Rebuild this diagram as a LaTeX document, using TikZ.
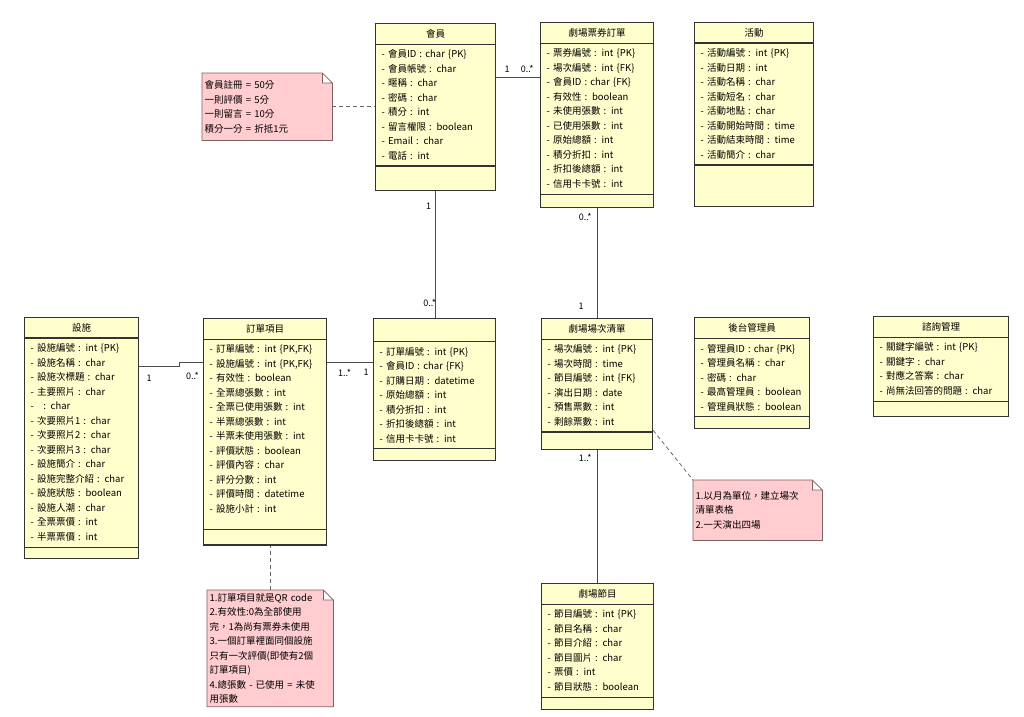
\documentclass[tikz,border=0pt]{standalone}
\usepackage{fontspec}
\setmainfont{Noto Sans CJK TC}
\usetikzlibrary{shapes.multipart,positioning,calc,backgrounds}
\definecolor{classfill}{RGB}{255,255,206}
\definecolor{notefill}{RGB}{255,204,207}
\definecolor{notedraw}{RGB}{130,95,95}

\begin{document}
\begin{tikzpicture}[
        x=1pt, y=-1pt,
        every node/.style={font=\fontsize{9.5}{14.5}\selectfont},
        umlclass/.style={
            rectangle split, rectangle split parts=3,
            draw=black!80, line width=1.1pt, fill=classfill,
            anchor=north west, align=left,
            inner xsep=6pt, inner ysep=5.3pt
        },
        notebox/.style={anchor=north west, align=left, inner xsep=2.5pt, inner ysep=3pt},
        mult/.style={font=\fontsize{9}{11}\selectfont, inner sep=1pt},
        assoc/.style={draw=black!70, line width=0.8pt},
        noteline/.style={draw=black!60, line width=0.8pt, dash pattern=on 4pt off 3pt}
    ]
    \useasboundingbox (0,0) rectangle (1024,716);

    % top row
    \node[umlclass, text width=108pt] (member) at (375,23) {\hfill 會員\hfill\null
        \nodepart{two}- 會員ID : char \{PK\}\\- 會員帳號 : char\\- 暱稱 : char\\- 密碼 : char\\- 積分 : int\\- 留言權限 : boolean\\- Email : char\\- 電話 : int
        \nodepart{three}\rule{0pt}{13pt}};
    \node[umlclass, text width=101pt] (ticket) at (540,22) {\hfill 劇場票券訂單\hfill\null
        \nodepart{two}- 票券編號 : int \{PK\}\\- 場次編號 : int \{FK\}\\- 會員ID : char \{FK\}\\- 有效性 : boolean\\- 未使用張數 : int\\- 已使用張數 : int\\- 原始總額 : int\\- 積分折扣 : int\\- 折扣後總額 : int\\- 信用卡卡號 : int
        \nodepart{three}\rule{0pt}{2pt}};
    \node[umlclass, text width=107pt] (activity) at (694,22) {\hfill 活動\hfill\null
        \nodepart{two}- 活動編號 : int \{PK\}\\- 活動日期 : int\\- 活動名稱 : char\\- 活動短名 : char\\- 活動地點 : char\\- 活動開始時間 : time\\- 活動結束時間 : time\\- 活動簡介 : char
        \nodepart{three}\rule{0pt}{30pt}};

    % middle row
    \node[umlclass, text width=102pt] (facility) at (24,317) {\hfill 設施\hfill\null
        \nodepart{two}- 設施編號 : int \{PK\}\\- 設施名稱 : char\\- 設施次標題 : char\\- 主要照片 : char\\- \ \ : char\\- 次要照片1 : char\\- 次要照片2 : char\\- 次要照片3 : char\\- 設施簡介 : char\\- 設施完整介紹 : char\\- 設施狀態 : boolean\\- 設施人潮 : char\\- 全票票價 : int\\- 半票票價 : int
        \nodepart{three}\rule{0pt}{0pt}};
    \node[umlclass, text width=111pt] (item) at (203,318) {\hfill 訂單項目\hfill\null
        \nodepart{two}- 訂單編號 : int \{PK,FK\}\\- 設施編號 : int \{PK,FK\}\\- 有效性 : boolean\\- 全票總張數 : int\\- 全票已使用張數 : int\\- 半票總張數 : int\\- 半票未使用張數 : int\\- 評價狀態 : boolean\\- 評價內容 : char\\- 評分分數 : int\\- 評價時間 : datetime\\- 設施小計 : int\rule[-11pt]{0pt}{0pt}
        \nodepart{three}\rule{0pt}{4pt}};
    \node[umlclass, text width=110pt] (order) at (373,318) {\rule{0pt}{11pt}
        \nodepart{two}- 訂單編號 : int \{PK\}\\- 會員ID : char \{FK\}\\- 訂購日期 : datetime\\- 原始總額 : int\\- 積分折扣 : int\\- 折扣後總額 : int\\- 信用卡卡號 : int
        \nodepart{three}\rule{0pt}{0pt}};
    \node[umlclass, text width=99pt] (showing) at (541,318) {\hfill 劇場場次清單\hfill\null
        \nodepart{two}- 場次編號 : int \{PK\}\\- 場次時間 : time\\- 節目編號 : int \{FK\}\\- 演出日期 : date\\- 預售票數 : int\\- 剩餘票數 : int
        \nodepart{three}\rule{0pt}{6pt}};
    \node[umlclass, text width=103pt] (admin) at (694,317) {\hfill 後台管理員\hfill\null
        \nodepart{two}- 管理員ID : char \{PK\}\\- 管理員名稱 : char\\- 密碼 : char\\- 最高管理員 : boolean\\- 管理員狀態 : boolean
        \nodepart{three}\rule{0pt}{0pt}};
    \node[umlclass, text width=123pt] (consult) at (873,316) {\hfill 諮詢管理\hfill\null
        \nodepart{two}- 關鍵字編號 : int \{PK\}\\- 關鍵字 : char\\- 對應之答案 : char\\- 尚無法回答的問題 : char
        \nodepart{three}\rule{0pt}{4pt}};

    % bottom row
    \node[umlclass, text width=100pt] (program) at (541,583) {\hfill 劇場節目\hfill\null
        \nodepart{two}- 節目編號 : int \{PK\}\\- 節目名稱 : char\\- 節目介紹 : char\\- 節目圖片 : char\\- 票價 : int\\- 節目狀態 : boolean
        \nodepart{three}\rule{0pt}{1pt}};

    % notes
    \node[notebox, text width=125pt, minimum height=67pt] (note1) at (202,73) {會員註冊 = 50分\\一則評價 = 5分\\一則留言 = 10分\\積分一分 = 折抵1元};
    \node[notebox, text width=124pt, minimum height=60pt] (note2) at (693,480) {1.以月為單位，建立場次\\清單表格\\2.一天演出四場};
    \node[notebox, text width=121pt, minimum height=116pt] (note3) at (207,590) {1.訂單項目就是QR code\\2.有效性:0為全部使用\\完，1為尚有票券未使用\\3.一個訂單裡面同個設施\\只有一次評價(即使有2個\\訂單項目)\\4.總張數 - 已使用 = 未使\\用張數};
    \begin{scope}[on background layer]
        \foreach \n in {note1,note2,note3}
            \filldraw[fill=notefill, draw=notedraw, line width=0.8pt]
                (\n.north west) -- ([xshift=-10]\n.north east) -- ([yshift=-10]\n.north east)
                -- (\n.south east) -- (\n.south west) -- cycle
                ([xshift=-10]\n.north east) |- ([yshift=-10]\n.north east);
    \end{scope}

    % associations
    \path[assoc] (member.east |- 0,77) -- (ticket.west |- 0,77)
        node[mult, pos=0.25, above=3pt] {1}
        node[mult, pos=0.71, above=3pt] {0..*};
    \path[assoc] (member.south) -- (member.south |- order.north)
        node[mult, pos=0.12, left=3pt] {1}
        node[mult, pos=0.88, left=-2pt] {0..*};
    \path[assoc] (ticket.south) -- (ticket.south |- showing.north)
        node[mult, pos=0.08, left=4pt] {0..*}
        node[mult, pos=0.89, left=12pt] {1};
    \path[assoc] ([yshift=-49]facility.north east) -- ++(40,0)
        node[mult, pos=0.25, below=8pt] {1}
        |- ([yshift=-44]item.north west)
        node[mult, pos=0.78, below=9pt] {0..*};
    \path[assoc] ([yshift=-44]item.north east) -- (order.west |- 0,362)
        node[mult, pos=0.38, below=6pt] {1..*}
        node[mult, pos=0.85, below=6pt] {1};
    \path[assoc] (showing.south) -- (showing.south |- program.north)
        node[mult, pos=0.06, left=4pt] {1..*};

    % note anchors
    \path[noteline] (note1.east) -- (member.west |- note1.east);
    \path[noteline] ([yshift=20]showing.south east) -- (note2.north west);
    \path[noteline] (note3.north) -- (note3.north |- item.south);
\end{tikzpicture}
\end{document}
